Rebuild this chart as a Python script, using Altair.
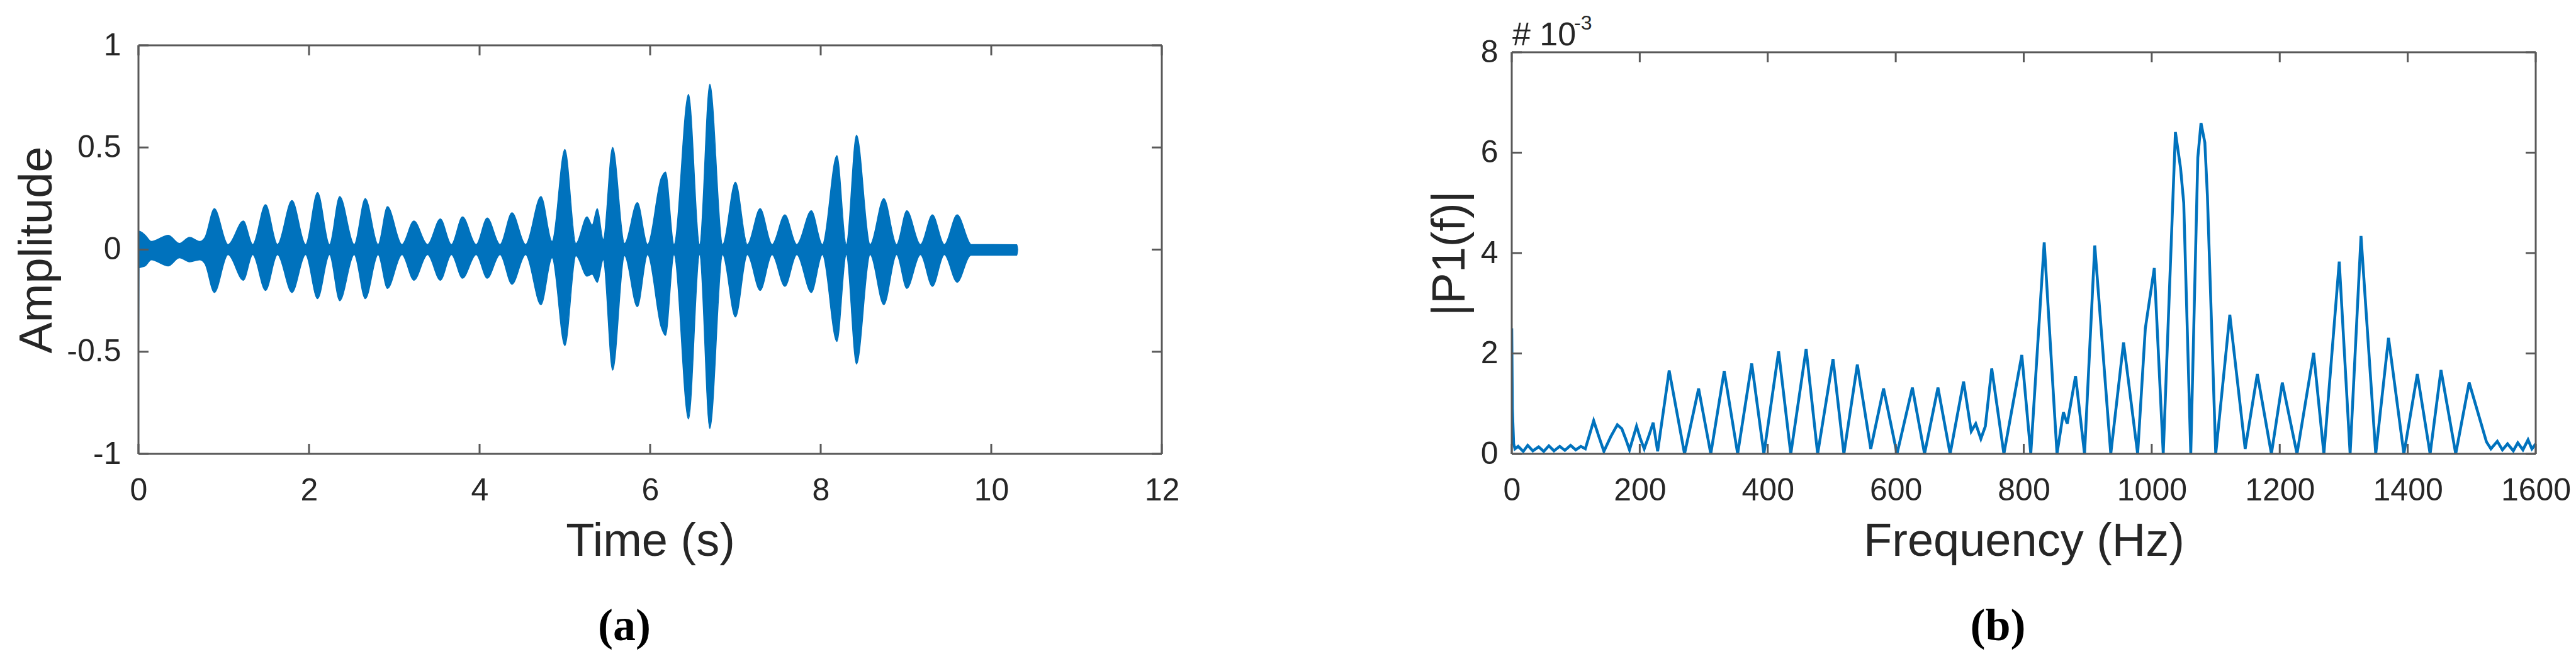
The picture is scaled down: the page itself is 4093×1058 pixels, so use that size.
import altair as alt
import pandas as pd

# ---------------- Panel (a): time signal envelope ----------------
time_s = [0.0, 0.006, 0.08, 0.15, 0.35, 0.48, 0.60, 0.72, 0.78, 0.89, 1.05, 1.23, 1.34, 1.49, 1.63,
          1.80, 1.96, 2.10, 2.24, 2.36, 2.53, 2.66, 2.81, 2.92, 3.09, 3.23, 3.39, 3.54, 3.67,
          3.80, 3.96, 4.09, 4.24, 4.38, 4.54, 4.72, 4.85, 5.00, 5.13, 5.26, 5.32, 5.38, 5.45,
          5.56, 5.70, 5.85, 5.97, 6.13, 6.18, 6.28, 6.45, 6.58, 6.70, 6.85, 7.00, 7.14, 7.29,
          7.43, 7.58, 7.72, 7.89, 8.02, 8.19, 8.30, 8.42, 8.58, 8.74, 8.89, 9.01, 9.17, 9.31,
          9.45, 9.60, 9.75, 9.76, 10.30, 10.31]
amp_upper = [0.09, 0.09, 0.07, 0.04, 0.07, 0.03, 0.06, 0.04, 0.06, 0.20, 0.025, 0.14, 0.025, 0.22, 0.025,
             0.24, 0.025, 0.28, 0.025, 0.26, 0.025, 0.25, 0.025, 0.21, 0.025, 0.14, 0.025, 0.15, 0.025,
             0.16, 0.025, 0.155, 0.025, 0.18, 0.025, 0.26, 0.04, 0.49, 0.03, 0.16, 0.12, 0.20, 0.05,
             0.50, 0.03, 0.23, 0.025, 0.35, 0.38, 0.025, 0.76, 0.025, 0.81, 0.025, 0.33, 0.025, 0.20,
             0.025, 0.17, 0.025, 0.19, 0.025, 0.46, 0.025, 0.56, 0.025, 0.25, 0.025, 0.19, 0.025, 0.17,
             0.025, 0.17, 0.03, 0.025, 0.024, 0.0]
amp_lower = [-0.65, -0.09, -0.08, -0.05, -0.08, -0.04, -0.06, -0.05, -0.07, -0.21, -0.025, -0.15, -0.025, -0.20, -0.025,
             -0.21, -0.025, -0.24, -0.025, -0.25, -0.025, -0.24, -0.025, -0.19, -0.025, -0.15, -0.025, -0.15, -0.025,
             -0.14, -0.025, -0.14, -0.025, -0.17, -0.025, -0.27, -0.04, -0.47, -0.03, -0.13, -0.12, -0.16, -0.05,
             -0.59, -0.03, -0.28, -0.025, -0.38, -0.42, -0.025, -0.83, -0.025, -0.875, -0.025, -0.33, -0.025, -0.20,
             -0.025, -0.18, -0.025, -0.21, -0.025, -0.45, -0.025, -0.56, -0.025, -0.27, -0.025, -0.19, -0.025, -0.18,
             -0.025, -0.16, -0.03, -0.028, -0.028, 0.0]

# ---------------- Panel (b): single-sided spectrum (x 10^-3) ----------------
freq_hz = [0, 1, 3, 5, 10, 18, 25, 33, 42, 50, 58, 66, 75, 83, 92, 100, 108, 115,
           122, 128, 136, 144, 155, 165, 172, 178, 184, 195, 201, 207, 214, 221, 228,
           246, 270, 292, 311, 332, 353, 375, 394, 417, 436, 460, 478, 502, 519, 540, 561,
           581, 602, 626, 645, 666, 685, 706, 718, 725, 733, 740, 750, 769, 797, 811,
           832, 852, 862, 868, 881, 895, 911, 936, 956, 978, 990, 1004, 1018, 1029, 1037,
           1045, 1050, 1061, 1072, 1077, 1083, 1087, 1100, 1122, 1146, 1165, 1187, 1204,
           1227, 1253, 1269, 1293, 1310, 1327, 1350, 1370, 1394, 1415, 1435, 1452, 1475,
           1496, 1523, 1530, 1540, 1548, 1556, 1565, 1572, 1580, 1588, 1594, 1600]
p1_e3 = [2.5, 0.9, 0.2, 0.1, 0.15, 0.05, 0.17, 0.06, 0.14, 0.05, 0.16, 0.06, 0.15, 0.07, 0.17, 0.08, 0.15, 0.1,
         0.4, 0.66, 0.35, 0.05, 0.35, 0.58, 0.5, 0.3, 0.08, 0.55, 0.3, 0.1, 0.35, 0.62, 0.05,
         1.66, 0.0, 1.3, 0.0, 1.65, 0.0, 1.8, 0.0, 2.04, 0.0, 2.09, 0.0, 1.89, 0.0, 1.78, 0.1,
         1.3, 0.0, 1.32, 0.0, 1.32, 0.0, 1.44, 0.45, 0.6, 0.3, 0.55, 1.7, 0.0, 1.97, 0.0,
         4.21, 0.0, 0.83, 0.6, 1.55, 0.0, 4.15, 0.0, 2.22, 0.0, 2.5, 3.7, 0.0, 3.7, 6.41,
         5.7, 5.0, 0.0, 5.9, 6.59, 6.2, 5.14, 0.0, 2.77, 0.1, 1.59, 0.0, 1.42,
         0.0, 2.01, 0.0, 3.83, 0.0, 4.34, 0.0, 2.31, 0.0, 1.59, 0.0, 1.67, 0.0,
         1.42, 0.24, 0.1, 0.25, 0.08, 0.2, 0.06, 0.22, 0.08, 0.28, 0.1, 0.2]

x_ticks_a = [0, 2, 4, 6, 8, 10, 12]
y_ticks_a = [-1, -0.5, 0, 0.5, 1]
x_ticks_b = [0, 200, 400, 600, 800, 1000, 1200, 1400, 1600]
y_ticks_b = [0, 2, 4, 6, 8]

BLUE = "#0072BD"
FRAME = "#595959"
TXT = "#262626"
SANS = "Liberation Sans"
SERIF = "Liberation Serif"
W_A, W_B = 1626, 1627
H = 649          # common view height
TOP_B = 11       # panel (b) box starts a little lower than panel (a)
TICK = 16

num_label = "datum.value == 0 ? '0' : (datum.value < 0 ? '-' : '') + format(abs(datum.value), '~g')"
one = pd.DataFrame({"k": [0]})
RULE = dict(color=FRAME, strokeWidth=3)


def frame(w, top):
    return [
        alt.Chart(one).mark_rule(**RULE).encode(x=alt.value(0), x2=alt.value(w), y=alt.value(top)),
        alt.Chart(one).mark_rule(**RULE).encode(x=alt.value(0), x2=alt.value(w), y=alt.value(H)),
        alt.Chart(one).mark_rule(**RULE).encode(x=alt.value(0), y=alt.value(top), y2=alt.value(H)),
        alt.Chart(one).mark_rule(**RULE).encode(x=alt.value(w), y=alt.value(top), y2=alt.value(H)),
    ]


def inner_ticks(xvals, yvals, xscale, yscale, w, top):
    dx = pd.DataFrame({"v": xvals})
    dy = pd.DataFrame({"v": yvals})
    return [
        alt.Chart(dx).mark_rule(**RULE).encode(
            x=alt.X("v:Q", scale=xscale), y=alt.value(H), y2=alt.value(H - TICK)),
        alt.Chart(dx).mark_rule(**RULE).encode(
            x=alt.X("v:Q", scale=xscale), y=alt.value(top), y2=alt.value(top + TICK)),
        alt.Chart(dy).mark_rule(**RULE).encode(
            y=alt.Y("v:Q", scale=yscale), x=alt.value(0), x2=alt.value(TICK)),
        alt.Chart(dy).mark_rule(**RULE).encode(
            y=alt.Y("v:Q", scale=yscale), x=alt.value(w), x2=alt.value(w - TICK)),
    ]


spacer = alt.Chart(one).mark_rule(opacity=0, strokeWidth=1).encode(
    x=alt.value(0), y=alt.value(-62), y2=alt.value(0))

# ----- panel (a)
xs_a = alt.Scale(domain=[0, 12], nice=False, zero=False)
ys_a = alt.Scale(domain=[-1, 1], nice=False, zero=False)
df_a = pd.DataFrame({"t": time_s, "hi": amp_upper, "lo": amp_lower})
area_a = alt.Chart(df_a).mark_area(color=BLUE, opacity=1, stroke=BLUE, strokeWidth=1.5,
                                   interpolate="monotone").encode(
    x=alt.X("t:Q", scale=xs_a, title="Time (s)",
            axis=alt.Axis(values=x_ticks_a, format="d", labelPadding=33, titlePadding=20)),
    y=alt.Y("hi:Q", scale=ys_a, title="Amplitude",
            axis=alt.Axis(values=y_ticks_a, labelExpr=num_label, labelPadding=28, titlePadding=8)),
    y2="lo:Q",
)
panel_a = alt.layer(area_a, *frame(W_A, 0), *inner_ticks(x_ticks_a, y_ticks_a, xs_a, ys_a, W_A, 0),
                    spacer).properties(
    width=W_A, height=H,
    title=alt.TitleParams(text="(a)", orient="bottom", anchor="middle", font=SERIF, fontSize=72,
                          fontWeight="bold", color="black", dx=-41, offset=63),
)

# ----- panel (b)
xs_b = alt.Scale(domain=[0, 1600], nice=False, zero=False)
ys_b = alt.Scale(domain=[0, 8], range=[H, TOP_B], nice=False, zero=False)
df_b = pd.DataFrame({"f": freq_hz, "p": p1_e3})
line_b = alt.Chart(df_b).mark_line(color=BLUE, strokeWidth=4.5, clip=True).encode(
    x=alt.X("f:Q", scale=xs_b, title="Frequency (Hz)",
            axis=alt.Axis(values=x_ticks_b, format="d", labelPadding=33, titlePadding=20)),
    y=alt.Y("p:Q", scale=ys_b, title="|P1(f)|",
            axis=alt.Axis(values=y_ticks_b, format="d", labelPadding=22, titlePadding=10)),
)
exp_base = alt.Chart(pd.DataFrame({"s": ["# 10"]})).mark_text(
    align="left", baseline="alphabetic", font=SANS, fontSize=52, color=TXT).encode(
    x=alt.value(1), y=alt.value(TOP_B - 11), text="s:N")
exp_sup = alt.Chart(pd.DataFrame({"s": ["-3"]})).mark_text(
    align="left", baseline="alphabetic", font=SANS, fontSize=32, color=TXT).encode(
    x=alt.value(99), y=alt.value(TOP_B - 36), text="s:N")
panel_b = alt.layer(line_b, *frame(W_B, TOP_B), *inner_ticks(x_ticks_b, y_ticks_b, xs_b, ys_b, W_B, TOP_B),
                    exp_base, exp_sup).properties(
    width=W_B, height=H,
    title=alt.TitleParams(text="(b)", orient="bottom", anchor="middle", font=SERIF, fontSize=72,
                          fontWeight="bold", color="black", dx=-41, offset=63),
)

chart = alt.hconcat(panel_a, panel_b, spacing=393).properties(
    padding={"left": 14, "top": 2, "right": 0, "bottom": 5},
    background="white",
).configure_view(
    stroke=None
).configure_axis(
    domain=False, ticks=False, grid=False, labelFlush=False,
    labelFont=SANS, labelFontSize=50, labelColor=TXT,
    titleFont=SANS, titleFontSize=74, titleFontWeight="normal", titleColor=TXT,
)

chart.save("out.html", embed_options={"renderer": "svg", "actions": False})
